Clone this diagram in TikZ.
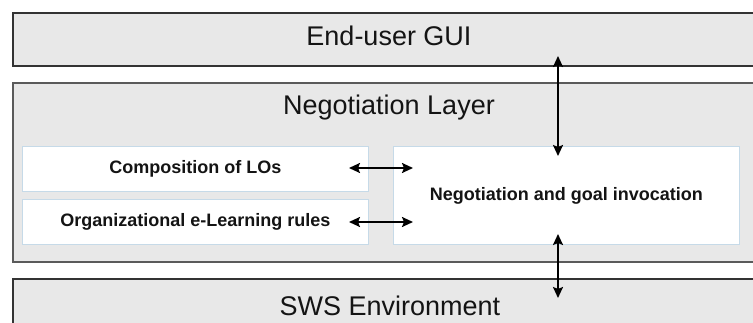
\documentclass[tikz,border=0pt]{standalone}
\usepackage{fontspec}
\setmainfont{Liberation Sans}
\usetikzlibrary{arrows.meta}
\definecolor{layerfill}{HTML}{E8E8E8}
\definecolor{layerline}{HTML}{333333}
\definecolor{midline}{HTML}{5A5A5A}
\definecolor{innerline}{HTML}{C6DAE8}
\tikzset{
  layerbox/.style={draw=layerline, line width=1.2pt, fill=layerfill},
  midbox/.style={draw=midline, line width=1.8pt, fill=layerfill},
  innerbox/.style={draw=innerline, line width=0.9pt, fill=white},
  bigtext/.style={font=\fontsize{27}{30}\selectfont, text=black!92, inner sep=0pt},
  smalltext/.style={font=\fontsize{18}{21}\selectfont\bfseries, text=black!92, inner sep=0pt},
  conn/.style={line width=2pt, {Stealth[length=11pt,width=10pt,inset=2pt]}-{Stealth[length=11pt,width=10pt,inset=2pt]}},
}
\begin{document}
\begin{tikzpicture}[x=1pt,y=-1pt]
\useasboundingbox (0,0) rectangle (753,323);
\clip (0,0) rectangle (753,323);
\fill[white] (0,0) rectangle (753,323);
% layers
\path[layerbox] (13,13) rectangle (770,66) coordinate (gui-se);
\node[bigtext] (gui) at (389,36) {End-user GUI};
\path[midbox] (13,83) rectangle (770,262);
\node[bigtext] (neglayer) at (389,108) {Negotiation Layer};
\path[layerbox] (13,279) rectangle (770,340);
\node[bigtext] (sws) at (390,306) {SWS Environment};
% inner boxes
\node[innerbox, anchor=north west, minimum width=346pt, minimum height=45pt, inner sep=0pt] (comp) at (22,146) {};
\node[smalltext] (comptext) at (comp.center) {Composition of LOs};
\node[innerbox, anchor=north west, minimum width=346pt, minimum height=45pt, inner sep=0pt] (org) at (22,199) {};
\node[smalltext] (orgtext) at (org.center) {Organizational e-Learning rules};
\node[innerbox, anchor=north west, minimum width=346pt, minimum height=98pt, inner sep=0pt] (neg) at (393,146) {};
\node[smalltext] (negtext) at (neg.center) {Negotiation and goal invocation};
% connector end points
\coordinate (a1) at (558,56);
\coordinate (a2) at (558,156);
\coordinate (b1) at (558,234);
\coordinate (b2) at (558,298);
\coordinate (c1) at (349,168);
\coordinate (c2) at (413,168);
\coordinate (d1) at (349,222);
\coordinate (d2) at (413,222);
\draw[conn] (a1) -- (a2);
\draw[conn] (b1) -- (b2);
\draw[conn] (c1) -- (c2);
\draw[conn] (d1) -- (d2);
\end{tikzpicture}
\end{document}
